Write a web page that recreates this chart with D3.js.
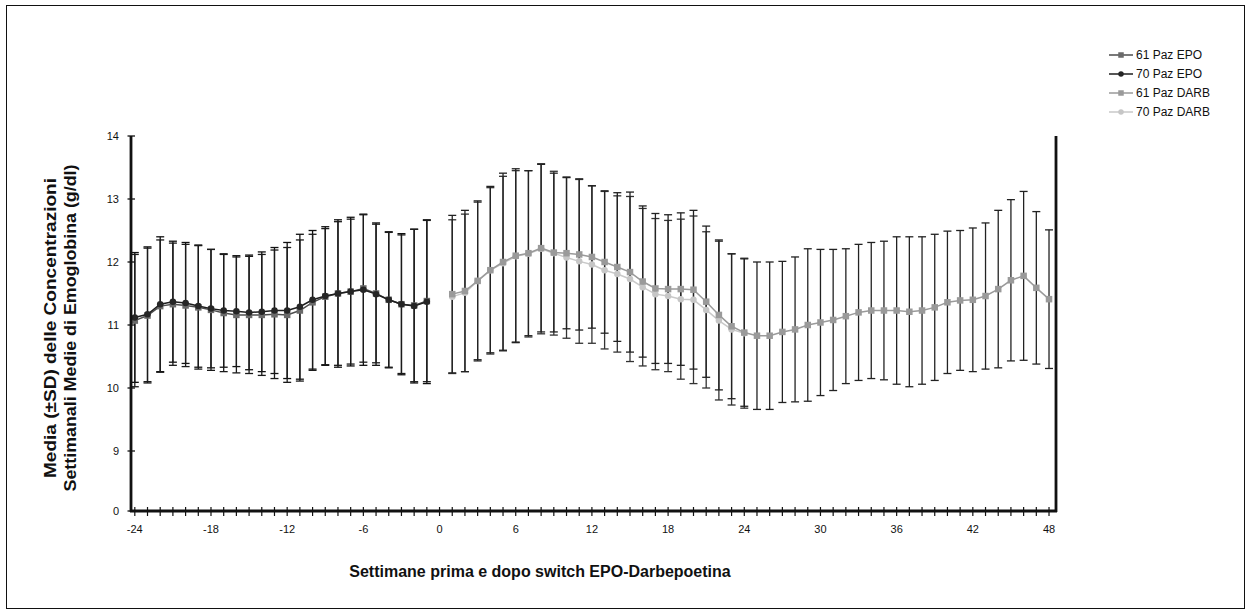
<!DOCTYPE html>
<html><head><meta charset="utf-8">
<script src="https://cdn.jsdelivr.net/npm/d3@7/dist/d3.min.js"></script>
<style>
body{margin:0;background:#fff}
svg{display:block}
text{font-family:"Liberation Sans",Arial,Helvetica,sans-serif;fill:#111}
</style>
</head><body>
<svg id="chart" width="1251" height="615"></svg>
<script>
// ---------------- DATA ----------------
const seriesNames = ["61 Paz EPO", "70 Paz EPO", "61 Paz DARB", "70 Paz DARB"];

const weeksEPO = [-24,-23,-22,-21,-20,-19,-18,-17,-16,-15,-14,-13,-12,-11,-10,-9,-8,-7,-6,-5,-4,-3,-2,-1];
const epo61Mean = [11.07,11.15,11.30,11.33,11.31,11.28,11.24,11.19,11.16,11.16,11.16,11.17,11.16,11.23,11.36,11.45,11.50,11.53,11.58,11.50,11.40,11.33,11.31,11.38];
const epo61SD   = [1.05,1.07,1.05,0.97,0.97,0.98,0.96,0.93,0.92,0.93,0.96,1.02,1.07,1.12,1.08,1.08,1.14,1.15,1.17,1.10,1.07,1.10,1.21,1.28];
const epo70Mean = [11.12,11.17,11.33,11.37,11.35,11.30,11.26,11.23,11.22,11.20,11.21,11.23,11.23,11.29,11.40,11.46,11.50,11.53,11.56,11.49,11.40,11.33,11.30,11.37];
const epo70SD   = [1.03,1.07,1.07,0.96,0.96,0.97,0.94,0.90,0.88,0.91,0.95,1.00,1.08,1.15,1.10,1.10,1.17,1.18,1.20,1.13,1.08,1.12,1.22,1.30];

const weeksDARB = [1,2,3,4,5,6,7,8,9,10,11,12,13,14,15,16,17,18,19,20,21,22,23,24,25,26,27,28,29,30,31,32,33,34,35,36,37,38,39,40,41,42,43,44,45,46,47,48];
const darb61Mean = [11.49,11.54,11.70,11.87,12.00,12.10,12.14,12.22,12.15,12.14,12.12,12.08,12.00,11.92,11.84,11.69,11.58,11.57,11.57,11.56,11.37,11.16,10.98,10.88,10.83,10.83,10.89,10.93,11.00,11.04,11.08,11.14,11.20,11.23,11.23,11.23,11.21,11.23,11.28,11.36,11.39,11.40,11.46,11.57,11.71,11.78,11.59,11.41];
const darb61SD   = [1.25,1.28,1.27,1.33,1.41,1.38,1.31,1.33,1.26,1.20,1.20,1.13,1.13,1.18,1.27,1.20,1.19,1.18,1.21,1.26,1.20,1.19,1.15,1.17,1.17,1.17,1.12,1.15,1.21,1.16,1.12,1.07,1.08,1.08,1.10,1.17,1.19,1.17,1.16,1.13,1.11,1.14,1.16,1.25,1.28,1.34,1.21,1.10];

const weeksDARB70 = [1,2,3,4,5,6,7,8,9,10,11,12,13,14,15,16,17,18,19,20,21,22,23,24];
const darb70Mean = [11.45,11.51,11.70,11.87,11.98,12.09,12.13,12.21,12.14,12.07,12.01,11.96,11.87,11.81,11.73,11.60,11.49,11.46,11.41,11.40,11.24,11.07,10.93,10.87];
const darb70SD   = [1.22,1.25,1.25,1.31,1.38,1.36,1.32,1.35,1.30,1.28,1.30,1.25,1.25,1.24,1.31,1.25,1.20,1.20,1.27,1.33,1.24,1.26,1.20,1.19];

const xTickLabels = [-24,-18,-12,-6,0,6,12,18,24,30,36,42,48];
const yTickLabels = [0,9,10,11,12,13,14];

const xTitle = "Settimane prima e dopo switch EPO-Darbepoetina";
const yTitle1 = "Media (\u00B1SD) delle Concentrazioni";
const yTitle2 = "Settimanali Medie di Emoglobina (g/dl)";

// ---------------- CHART ----------------
const svg = d3.select("#chart");

// outer border
svg.append("rect").attr("x",6.5).attr("y",5.5).attr("width",1238).attr("height",603)
  .attr("fill","none").attr("stroke","#111").attr("stroke-width",1);

const pLeft = 131, pRight = 1056, pTop = 136, pBottom = 511;
const x = d3.scaleLinear().domain([-24.3, 48.55]).range([pLeft, pRight]);
// broken value axis: 0 then 9..14 equally spaced
const y = d3.scaleLinear().domain([0, 9, 14]).range([pBottom, 451, pTop]);

const series = [
  {name: seriesNames[0], weeks: weeksEPO,   mean: epo61Mean,  sd: epo61SD,  line:"#4d4d4d", fill:"#6a6a6a", shape:"square", err:"#1a1a1a"},
  {name: seriesNames[1], weeks: weeksEPO,   mean: epo70Mean,  sd: epo70SD,  line:"#1e1e1e", fill:"#262626", shape:"circle", err:"#111"},
  {name: seriesNames[2], weeks: weeksDARB,  mean: darb61Mean, sd: darb61SD, line:"#9a9a9a", fill:"#9a9a9a", shape:"square", err:"#222"},
  {name: seriesNames[3], weeks: weeksDARB70,mean: darb70Mean, sd: darb70SD, line:"#c9c9c9", fill:"#c6c6c6", shape:"circle", err:"#333"}
];
series.forEach(s => s.pts = s.weeks.map((w,i) => ({w, m: s.mean[i], sd: s.sd[i]})));

// error bars
const gErr = svg.append("g");
[series[3], series[2], series[1], series[0]].forEach(s => {
  const g = gErr.append("g").attr("stroke", s.err).attr("stroke-width",1.3).attr("fill","none");
  s.pts.forEach(p => {
    const cx = x(p.w), y1 = y(p.m + p.sd), y2 = y(p.m - p.sd);
    g.append("line").attr("x1",cx).attr("x2",cx).attr("y1",y1).attr("y2",y2);
    g.append("line").attr("x1",cx-4).attr("x2",cx+4).attr("y1",y1).attr("y2",y1);
    g.append("line").attr("x1",cx-4).attr("x2",cx+4).attr("y1",y2).attr("y2",y2);
  });
});

// lines + markers
const lineGen = d3.line().x(d => x(d.w)).y(d => y(d.m));
function marker(g, shape, cx, cy, fill, size) {
  if (shape === "square") {
    g.append("rect").attr("x",cx-size/2).attr("y",cy-size/2).attr("width",size).attr("height",size).attr("fill",fill);
  } else {
    g.append("circle").attr("cx",cx).attr("cy",cy).attr("r",size/2).attr("fill",fill);
  }
}
[series[3], series[2], series[0], series[1]].forEach(s => {
  svg.append("path").datum(s.pts).attr("d", lineGen).attr("fill","none")
    .attr("stroke", s.line).attr("stroke-width",1.5);
  const g = svg.append("g");
  s.pts.forEach(p => marker(g, s.shape, x(p.w), y(p.m), s.fill, 6.5));
});

// x axis ticks (every week) and labels
svg.append("g").selectAll("line").data(d3.range(-24, 49, 1)).join("line")
  .attr("x1", d => x(d)).attr("x2", d => x(d)).attr("y1", pBottom-4).attr("y2", pBottom+5)
  .attr("stroke","#111").attr("stroke-width",1.2);
svg.append("g").selectAll("text").data(xTickLabels).join("text")
  .attr("x", d => x(d)).attr("y", pBottom + 22).attr("text-anchor","middle")
  .attr("font-size","11px").text(d => d);

// y axis ticks and labels
svg.append("g").selectAll("line").data(yTickLabels).join("line")
  .attr("x1", pLeft-3.5).attr("x2", pLeft+4).attr("y1", d => y(d)).attr("y2", d => y(d))
  .attr("stroke","#111").attr("stroke-width",1.3);
svg.append("g").selectAll("text").data(yTickLabels).join("text")
  .attr("x", pLeft-12).attr("y", d => y(d)).attr("dy","0.36em").attr("text-anchor","end")
  .attr("font-size","11px").text(d => d);

// axis lines
svg.append("line").attr("x1",pLeft).attr("x2",pLeft).attr("y1",pTop).attr("y2",pBottom+1)
  .attr("stroke","#111").attr("stroke-width",2.8);
svg.append("line").attr("x1",pLeft-1).attr("x2",pRight+1).attr("y1",pBottom).attr("y2",pBottom)
  .attr("stroke","#111").attr("stroke-width",2.8);
svg.append("line").attr("x1",pRight).attr("x2",pRight).attr("y1",pTop).attr("y2",pBottom+1)
  .attr("stroke","#111").attr("stroke-width",2.8);

// titles
svg.append("text").attr("x",540).attr("y",577).attr("text-anchor","middle")
  .attr("font-size","16px").attr("font-weight","bold").text(xTitle);
svg.append("text").attr("transform","translate(56,328) rotate(-90)").attr("text-anchor","middle")
  .attr("font-size","16px").attr("font-weight","bold").attr("textLength",300).attr("lengthAdjust","spacingAndGlyphs").text(yTitle1);
svg.append("text").attr("transform","translate(76,328) rotate(-90)").attr("text-anchor","middle")
  .attr("font-size","16px").attr("font-weight","bold").attr("textLength",327).attr("lengthAdjust","spacingAndGlyphs").text(yTitle2);

// legend
const lg = svg.append("g");
const legendX = 1109, legendY0 = 55, legendStep = 19;
series.forEach((s, i) => {
  const ly = legendY0 + i*legendStep;
  lg.append("line").attr("x1",legendX).attr("x2",legendX+24).attr("y1",ly).attr("y2",ly)
    .attr("stroke", s.line).attr("stroke-width",1.5);
  marker(lg, s.shape, legendX+12, ly, s.fill, 5.5);
  lg.append("text").attr("x",legendX+27).attr("y",ly).attr("dy","0.36em")
    .attr("font-size","12px").text(s.name);
});
</script>
</body></html>
